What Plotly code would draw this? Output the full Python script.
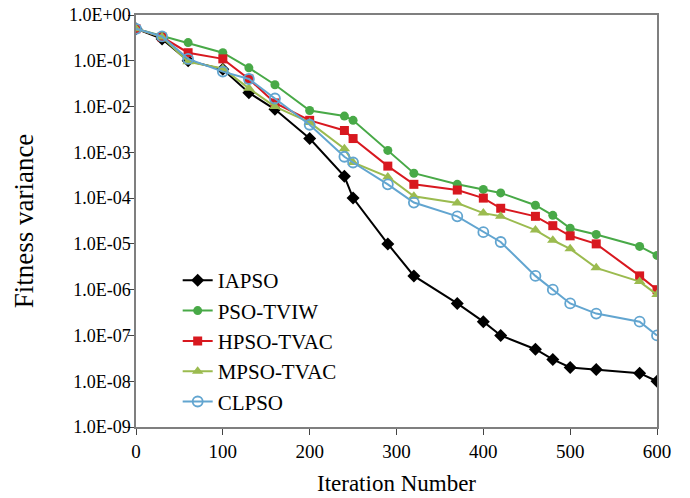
import plotly.graph_objects as go

iterations = [0, 30, 60, 100, 130, 160, 200, 240, 250, 290, 320, 370, 400, 420, 460, 480, 500, 530, 580, 600]

iapso = [0.5, 0.3, 0.1, 0.065, 0.02, 0.0087, 0.002, 3e-4, 1e-4, 1e-5, 2e-6, 5e-7, 2e-7, 1e-7,
         5e-8, 3e-8, 2e-8, 1.8e-8, 1.5e-8, 1e-8]
pso_tviw = [0.5, 0.35, 0.25, 0.15, 0.07, 0.03, 0.0082, 0.0062, 0.005, 0.0011, 3.5e-4, 2e-4, 1.55e-4,
            1.3e-4, 7e-5, 4.2e-5, 2.2e-5, 1.6e-5, 8.8e-6, 5.6e-6]
hpso_tvac = [0.5, 0.33, 0.15, 0.11, 0.04, 0.012, 0.005, 0.003, 0.002, 5e-4, 2e-4, 1.5e-4, 1e-4,
             6e-5, 4e-5, 2.5e-5, 1.5e-5, 1e-5, 2e-6, 1e-6]
mpso_tvac = [0.5, 0.33, 0.095, 0.068, 0.025, 0.01, 0.0045, 0.0012, 6e-4, 2.9e-4, 1.1e-4, 7.8e-5,
             4.7e-5, 4e-5, 2e-5, 1.2e-5, 7.8e-6, 3e-6, 1.5e-6, 7.8e-7]
clpso = [0.5, 0.34, 0.11, 0.058, 0.04, 0.015, 0.004, 8e-4, 6e-4, 2e-4, 8e-5, 4e-5, 1.8e-5, 1.1e-5,
         2e-6, 1e-6, 5e-7, 3e-7, 2e-7, 1e-7]

y_tick_vals = [1e0, 1e-1, 1e-2, 1e-3, 1e-4, 1e-5, 1e-6, 1e-7, 1e-8, 1e-9]
y_tick_text = ["1.0E+00", "1.0E-01", "1.0E-02", "1.0E-03", "1.0E-04", "1.0E-05",
               "1.0E-06", "1.0E-07", "1.0E-08", "1.0E-09"]
x_tick_vals = [0, 100, 200, 300, 400, 500, 600]

series = [
    ("IAPSO", iapso, "#000000", dict(symbol="diamond", size=10)),
    ("PSO-TVIW", pso_tviw, "#48a947", dict(symbol="circle", size=9)),
    ("HPSO-TVAC", hpso_tvac, "#d8181f", dict(symbol="square", size=9)),
    ("MPSO-TVAC", mpso_tvac, "#9bbb4f", dict(symbol="triangle-up", size=10)),
    ("CLPSO", clpso, "#62a5d0", dict(symbol="circle-open", size=10, line=dict(width=1.8))),
]

fig = go.Figure()
for name, vals, color, marker in series:
    m = dict(color=color, **marker)
    fig.add_trace(go.Scatter(x=iterations, y=vals, mode="lines+markers", name=name,
                             line=dict(color=color, width=2), marker=m))

serif = "Liberation Serif"
fig.update_layout(
    width=690, height=498,
    margin=dict(l=136, r=33, t=15, b=71),
    paper_bgcolor="white", plot_bgcolor="white",
    font=dict(family=serif, size=19, color="#000000"),
    showlegend=True,
    legend=dict(x=0.08, y=0.405, xanchor="left", yanchor="top",
                bgcolor="rgba(0,0,0,0)", font=dict(family=serif, size=21, color="#000000"),
                tracegroupgap=0, itemwidth=30),
)
fig.update_xaxes(range=[0, 600], tickvals=x_tick_vals, ticks="outside", ticklen=6,
                 tickfont=dict(family=serif, size=19, color="#000000"),
                 showline=True, linecolor="#7f7f7f", linewidth=1.5, mirror=True,
                 showgrid=False, zeroline=False, automargin=False,
                 title=dict(text="Iteration Number", font=dict(family=serif, size=23), standoff=14))
fig.update_yaxes(type="log", range=[-9, 0], tickvals=y_tick_vals, ticktext=y_tick_text,
                 ticks="outside", ticklen=6, ticklabelstandoff=-6,
                 tickfont=dict(family=serif, size=18, color="#000000"),
                 showline=True, linecolor="#7f7f7f", linewidth=1.5, mirror=True,
                 showgrid=False, zeroline=False, automargin=False,
                 title=dict(text="Fitness variance", font=dict(family=serif, size=27), standoff=28))

fig.write_html("out.html", config={"displayModeBar": False},
               post_script="document.body.style.margin='0';")
